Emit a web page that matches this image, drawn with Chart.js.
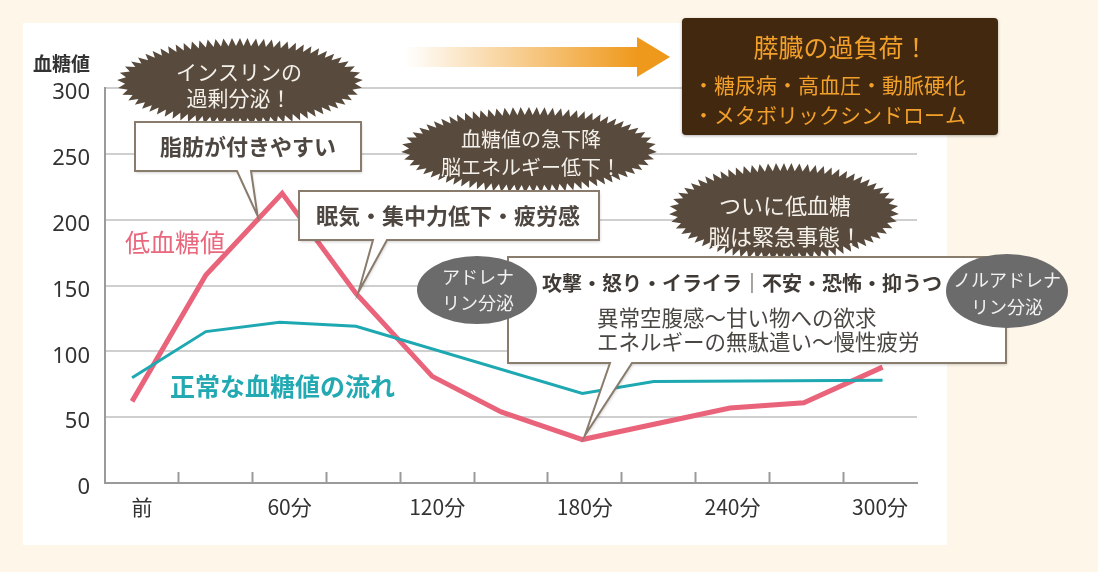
<!DOCTYPE html>
<html lang="ja">
<head>
<meta charset="utf-8">
<title>血糖値の流れ</title>
<script src="https://cdn.jsdelivr.net/npm/chart.js@4.4.1/dist/chart.umd.min.js"></script>
<style>
html, body { margin: 0; padding: 0; background: #fdf6e9; }
canvas { display: block; }
</style>
</head>
<body>
<canvas id="chart" width="1098" height="572"></canvas>
<script>
// 時間(分)と血糖値 — 図から読み取った値
var redMinutes  = [-4, 26, 57, 87, 118, 146, 179, 239, 269, 301];
var redValues   = [62, 158, 220, 144, 81, 54, 33, 57, 61, 88];
var tealMinutes = [-4, 26, 56, 87, 179, 208, 301];
var tealValues  = [80, 115, 122, 119, 68, 77, 78];

var xLabelMinutes = [0, 60, 120, 180, 240, 300];
var xLabels       = ['前', '60分', '120分', '180分', '240分', '300分'];
var xTickMarks    = [15, 45, 75, 105, 135, 165, 195, 225, 255, 285];
var yTicks        = [0, 50, 100, 150, 200, 250, 300];

var JP = '"Noto Sans CJK JP", "Noto Sans", sans-serif';

function points(xs, ys) {
  return xs.map(function (x, i) { return { x: x, y: ys[i] }; });
}

// 背景パネル
var panel = {
  id: 'panel',
  beforeDraw: function (chart) {
    var ctx = chart.ctx;
    ctx.save();
    ctx.fillStyle = '#fdf6e9';
    ctx.fillRect(0, 0, chart.width, chart.height);
    ctx.fillStyle = '#ffffff';
    ctx.fillRect(23, 23, 924, 522);
    ctx.fillStyle = '#333333';
    ctx.font = 'bold 19px ' + JP;
    ctx.textBaseline = 'middle';
    ctx.fillText('血糖値', 33, 64);
    ctx.restore();
  }
};

function burst(ctx, cx, cy, rx, ry, depth, spacing, color) {
  var n = 1440, pts = [], len = [0];
  for (var i = 0; i <= n; i++) {
    var a = i / n * Math.PI * 2 - Math.PI / 2;
    pts.push([Math.cos(a), Math.sin(a)]);
    if (i > 0) {
      len.push(len[i - 1] + Math.hypot(rx * (pts[i][0] - pts[i - 1][0]), ry * (pts[i][1] - pts[i - 1][1])));
    }
  }
  var total = len[n];
  var count = Math.round(total / spacing) * 2;
  var j = 0;
  ctx.beginPath();
  for (var k = 0; k < count; k++) {
    var target = total * k / count;
    while (len[j + 1] < target) j++;
    var r = k % 2 === 0 ? 0 : depth;
    var x = cx + (rx - r) * pts[j][0], y = cy + (ry - r) * pts[j][1];
    if (k === 0) ctx.moveTo(x, y); else ctx.lineTo(x, y);
  }
  ctx.closePath();
  ctx.fillStyle = color;
  ctx.fill();
}

function callout(ctx, x, y, w, h, b1, b2, tip) {
  ctx.save();
  ctx.beginPath();
  ctx.moveTo(x, y);
  ctx.lineTo(x + w, y);
  ctx.lineTo(x + w, y + h);
  ctx.lineTo(b2, y + h);
  ctx.lineTo(tip[0], tip[1]);
  ctx.lineTo(b1, y + h);
  ctx.lineTo(x, y + h);
  ctx.closePath();
  ctx.shadowColor = 'rgba(0,0,0,0.18)';
  ctx.shadowBlur = 3;
  ctx.shadowOffsetX = 1;
  ctx.shadowOffsetY = 2;
  ctx.fillStyle = '#ffffff';
  ctx.fill();
  ctx.shadowColor = 'transparent';
  ctx.strokeStyle = '#8a7c6c';
  ctx.lineWidth = 2;
  ctx.lineJoin = 'miter';
  ctx.stroke();
  ctx.restore();
}

function oval(ctx, cx, cy, rx, ry, color) {
  ctx.beginPath();
  ctx.ellipse(cx, cy, rx, ry, 0, 0, Math.PI * 2);
  ctx.fillStyle = color;
  ctx.fill();
}

function lines(ctx, list, x, y0, step, align) {
  ctx.textAlign = align || 'center';
  ctx.textBaseline = 'middle';
  list.forEach(function (s, i) { ctx.fillText(s, x, y0 + i * step); });
}

var annotations = {
  id: 'annotations',
  afterDraw: function (chart) {
    var ctx = chart.ctx, xs = chart.scales.x, ys = chart.scales.y;
    function at(t, v) { return [xs.getPixelForValue(t), ys.getPixelForValue(v)]; }
    ctx.save();

    // とげとげ吹き出し
    burst(ctx, 240, 82, 123, 44, 8, 8, '#584a3c');
    burst(ctx, 529, 150, 128, 43, 8, 8, '#584a3c');
    burst(ctx, 784, 212, 115, 49, 8, 8, '#584a3c');

    // 四角い吹き出し
    callout(ctx, 135, 122, 226, 49, 237, 251, at(47, 203));
    callout(ctx, 299, 191, 300, 49, 373, 387, at(88, 145));
    callout(ctx, 508, 257, 498, 106, 610, 632, at(180, 36));

    ctx.fillStyle = '#f4f0ea';
    ctx.font = '21px ' + JP;
    lines(ctx, ['インスリンの', '過剰分泌！'], 239, 72, 26);
    ctx.font = '20px ' + JP;
    lines(ctx, ['血糖値の急下降', '脳エネルギー低下！'], 531, 139, 28);
    ctx.font = '22px ' + JP;
    lines(ctx, ['ついに低血糖', '脳は緊急事態！'], 785, 206, 31);

    ctx.fillStyle = '#4e4640';
    ctx.font = 'bold 22px ' + JP;
    lines(ctx, ['脂肪が付きやすい'], 248, 147, 0);
    lines(ctx, ['眠気・集中力低下・疲労感'], 448, 216, 0);
    ctx.fillStyle = '#3f3a35';
    ctx.font = 'bold 20px ' + JP;
    lines(ctx, ['攻撃・怒り・イライラ｜不安・恐怖・抑うつ'], 742, 283, 0);
    ctx.fillStyle = '#4a4642';
    ctx.font = '21.5px ' + JP;
    lines(ctx, ['異常空腹感～甘い物への欲求', 'エネルギーの無駄遣い～慢性疲労'], 597, 318, 24, 'left');

    // ホルモンの丸
    oval(ctx, 477, 290, 60, 34, '#6b6b6b');
    oval(ctx, 1007, 291, 61, 37, '#6b6b6b');
    ctx.fillStyle = '#f2f2f2';
    ctx.font = '18px ' + JP;
    lines(ctx, ['アドレナ', 'リン分泌'], 478, 277, 26);
    lines(ctx, ['ノルアドレナ', 'リン分泌'], 1007, 280, 27);

    // 矢印
    var g = ctx.createLinearGradient(405, 0, 637, 0);
    g.addColorStop(0, 'rgba(240,155,30,0)');
    g.addColorStop(1, 'rgba(239,153,28,1)');
    ctx.fillStyle = g;
    ctx.fillRect(405, 47, 233, 20);
    ctx.beginPath();
    ctx.moveTo(637, 37);
    ctx.lineTo(670, 57);
    ctx.lineTo(637, 77);
    ctx.closePath();
    ctx.fillStyle = '#ef991c';
    ctx.fill();

    // 膵臓ボックス
    ctx.save();
    ctx.shadowColor = 'rgba(0,0,0,0.3)';
    ctx.shadowBlur = 3;
    ctx.shadowOffsetY = 1;
    ctx.beginPath();
    ctx.roundRect(682, 18, 316, 117, 4);
    ctx.fillStyle = '#42280f';
    ctx.fill();
    ctx.restore();
    ctx.fillStyle = '#f2a02a';
    ctx.font = '25px ' + JP;
    lines(ctx, ['膵臓の過負荷！'], 841, 47, 0);
    ctx.font = '21px ' + JP;
    lines(ctx, ['・糖尿病・高血圧・動脈硬化', '・メタボリックシンドローム'], 693, 85, 30, 'left');

    // 系列ラベル
    ctx.font = '25px ' + JP;
    ctx.fillStyle = '#e9687e';
    lines(ctx, ['低血糖値'], 125, 242, 0, 'left');
    ctx.font = 'bold 25px ' + JP;
    ctx.fillStyle = '#22a9b2';
    lines(ctx, ['正常な血糖値の流れ'], 170, 386, 0, 'left');

    ctx.restore();
  }
};

new Chart(document.getElementById('chart'), {
  type: 'line',
  data: {
    datasets: [
      {
        label: '正常な血糖値の流れ',
        data: points(tealMinutes, tealValues),
        borderColor: '#1ea8b1',
        borderWidth: 3,
        pointRadius: 0,
        tension: 0
      },
      {
        label: '低血糖値',
        data: points(redMinutes, redValues),
        borderColor: '#e9637a',
        borderWidth: 5,
        pointRadius: 0,
        tension: 0
      }
    ]
  },
  options: {
    responsive: false,
    devicePixelRatio: 1,
    animation: false,
    layout: { padding: { top: 88, right: 181, left: 0, bottom: 0 } },
    plugins: { legend: { display: false }, tooltip: { enabled: false } },
    scales: {
      x: {
        type: 'linear',
        min: -15,
        max: 315,
        afterBuildTicks: function (scale) {
          scale.ticks = xLabelMinutes.concat(xTickMarks)
            .sort(function (a, b) { return a - b; })
            .map(function (v) { return { value: v }; });
        },
        afterFit: function (scale) { scale.height = 89; },
        border: { display: true, color: '#9a9a9a', width: 2 },
        grid: {
          drawOnChartArea: false,
          drawTicks: true,
          tickLength: -11,
          tickWidth: 2,
          tickColor: function (c) {
            return c.tick && xTickMarks.indexOf(c.tick.value) >= 0 ? '#9a9a9a' : 'rgba(0,0,0,0)';
          }
        },
        ticks: {
          autoSkip: false,
          maxRotation: 0,
          padding: 22,
          color: '#333333',
          font: { family: JP, size: 21 },
          callback: function (v) {
            var i = xLabelMinutes.indexOf(v);
            return i >= 0 ? xLabels[i] : '';
          }
        }
      },
      y: {
        min: 0,
        max: 300,
        afterBuildTicks: function (scale) {
          scale.ticks = yTicks.map(function (v) { return { value: v }; });
        },
        afterFit: function (scale) { scale.width = 105; },
        border: { display: true, color: '#9a9a9a', width: 2 },
        grid: { color: '#cfcfcf', lineWidth: 2, drawTicks: false },
        ticks: {
          padding: 15,
          labelOffset: 5,
          color: '#333333',
          font: { family: '"Noto Sans", sans-serif', size: 22 }
        }
      }
    }
  },
  plugins: [panel, annotations]
});
</script>
</body>
</html>
